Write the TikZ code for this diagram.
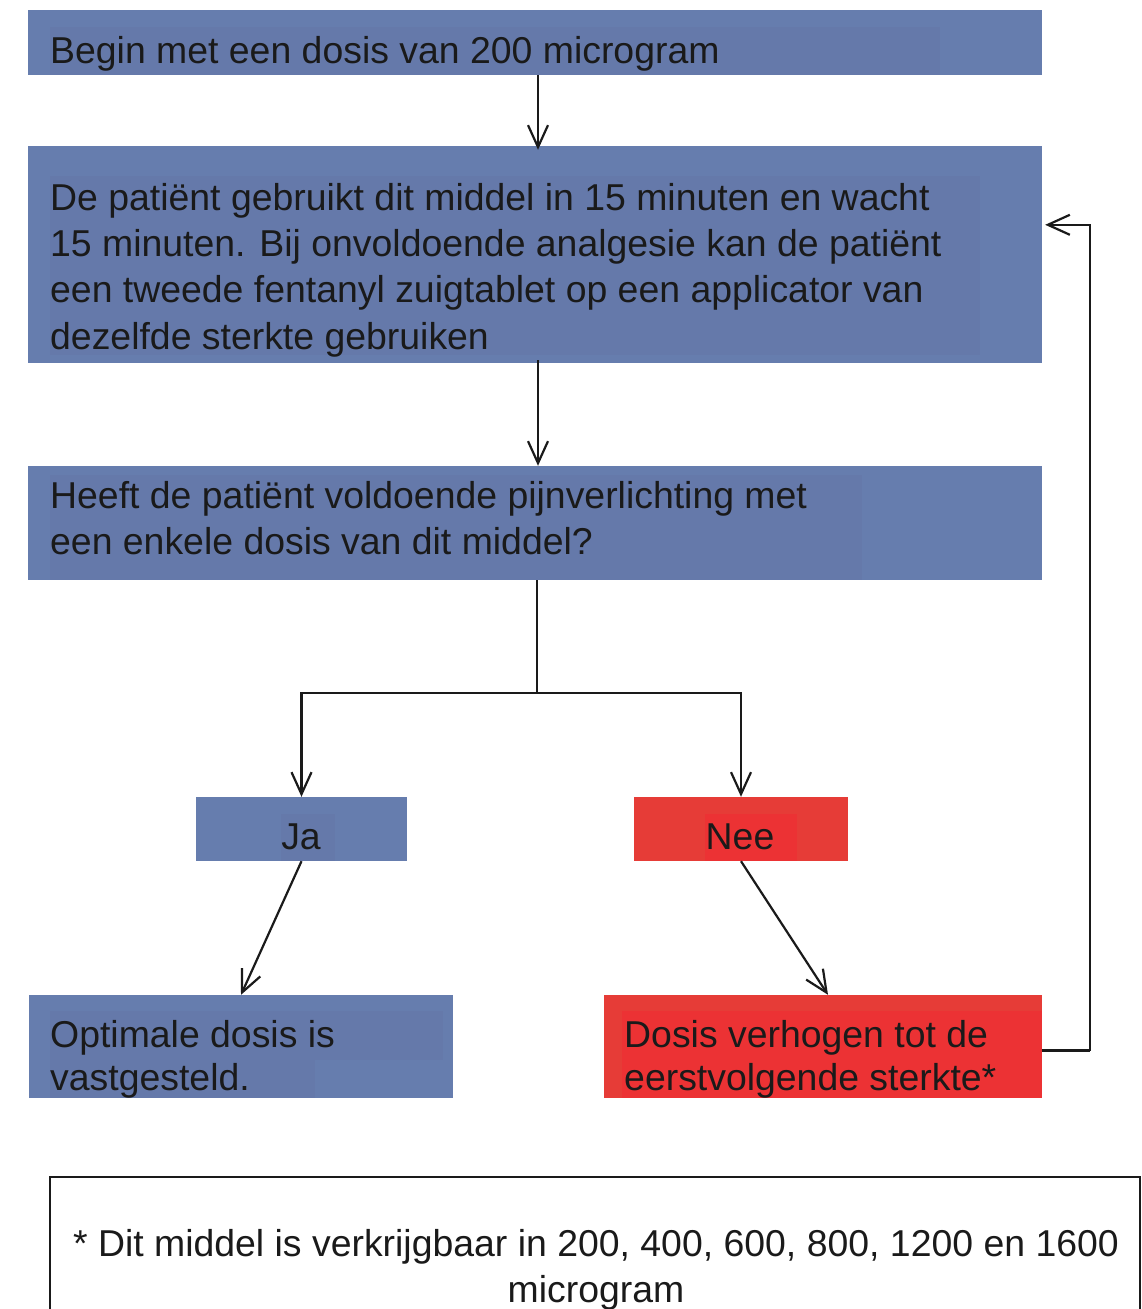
\documentclass[tikz,border=0pt]{standalone}
\usepackage{fontspec}
\setmainfont{Liberation Sans}
\usetikzlibrary{arrows.meta}
\definecolor{bblue}{HTML}{667DAE}
\definecolor{iblue}{HTML}{6579AA}
\definecolor{bred}{HTML}{E63C37}
\definecolor{ired}{HTML}{EC3234}
\definecolor{ink}{HTML}{1A1A1A}
\begin{document}
\begin{tikzpicture}[x=1pt,y=-1pt,
  box/.style={fill=bblue, draw=none, inner sep=0pt, minimum width=#1},
  redbox/.style={fill=bred, draw=none, inner sep=0pt, minimum width=#1},
  ln/.style={inner sep=0pt, anchor=base west, text=ink, font=\fontsize{37.4}{44}\selectfont},
  lnc/.style={inner sep=0pt, anchor=base, text=ink, font=\fontsize{37.4}{44}\selectfont},
  conn/.style={draw=ink, line width=2.2pt, -{Straight Barb[length=22pt,width=20pt]}},
  plain/.style={draw=ink, line width=2.2pt}]
\useasboundingbox (0,0) rectangle (1141,1309);
% boxes
\node[box=1014pt, minimum height=65pt] (b1) at (535,42.5) {};
\node[box=1014pt, minimum height=217pt] (b2) at (535,254.5) {};
\node[box=1014pt, minimum height=114pt] (b3) at (535,523) {};
\node[box=211pt, minimum height=64pt] (ja) at (301.5,829) {};
\node[redbox=214pt, minimum height=64pt] (nee) at (741,829) {};
\node[box=424pt, minimum height=103pt] (opt) at (241,1046.5) {};
\node[redbox=438pt, minimum height=103pt] (dos) at (823,1046.5) {};
% inner text areas
\fill[iblue] (50,27) rectangle (940,75);
\fill[iblue] (50,176) rectangle (980,355);
\fill[iblue] (50,475) rectangle (862,580);
\fill[iblue] (281,814) rectangle (335,861);
\fill[ired] (705,814) rectangle (797,861);
\fill[iblue] (50,1011) rectangle (443,1060);
\fill[iblue] (50,1060) rectangle (315,1098);
\fill[ired] (622,1011) rectangle (1042,1098);
% footnote box
\node[draw=ink, line width=2.5pt, inner sep=0pt, minimum width=1090pt, minimum height=160pt] (note) at (595,1257) {};
% texts
\node[ln] (t1) at (50,63) {Begin met een dosis van 200 microgram};
\node[ln] (t2a) at (50,210) {De patiënt gebruikt dit middel in 15 minuten en wacht};
\node[ln] (t2b) at (50,256.5) {15 minuten. Bij onvoldoende analgesie kan de patiënt};
\node[ln] (t2c) at (50,302.5) {een tweede fentanyl zuigtablet op een applicator van};
\node[ln] (t2d) at (50,349) {dezelfde sterkte gebruiken};
\node[ln] (t3a) at (50,508) {Heeft de patiënt voldoende pijnverlichting met};
\node[ln] (t3b) at (50,554) {een enkele dosis van dit middel?};
\node[lnc] (tja) at (301,849) {Ja};
\node[lnc] (tnee) at (740,849) {Nee};
\node[ln] (topa) at (50,1047) {Optimale dosis is};
\node[ln] (topb) at (50,1090) {vastgesteld.};
\node[ln] (tdosa) at (624,1047) {Dosis verhogen tot de};
\node[ln] (tdosb) at (624,1090) {eerstvolgende sterkte*};
\node[lnc] (tna) at (596,1256) {* Dit middel is verkrijgbaar in 200, 400, 600, 800, 1200 en 1600};
\node[lnc] (tnb) at (596,1302) {microgram};
% connectors
\path (b1.south) ++(3,0) coordinate (a1s);
\path (b2.north) ++(3,4) coordinate (a1e);
\draw[conn] (a1s) -- (a1e);
\path (b2.south) ++(3,-3) coordinate (a2s);
\path (b3.north) ++(3,0) coordinate (a2e);
\draw[conn] (a2s) -- (a2e);
\path (b3.south) ++(2,113) coordinate (split);
\draw[plain] (b3.south) ++(2,0) -- (split);
\draw[conn] (split) -| (ja.north);
\draw[conn] (split) -| (nee.north);
\draw[conn] (ja.south) -- (opt.north);
\path (dos.north) ++(5,0) coordinate (dosn);
\draw[conn] (nee.south) -- (dosn);
\path (dos.east) ++(48,4) coordinate (ret);
\path (b2.north east) ++(3,79) coordinate (retend);
\draw[plain] (dos.east) ++(0,4) -- (ret);
\draw[conn] (ret) |- (retend);
\end{tikzpicture}
\end{document}
